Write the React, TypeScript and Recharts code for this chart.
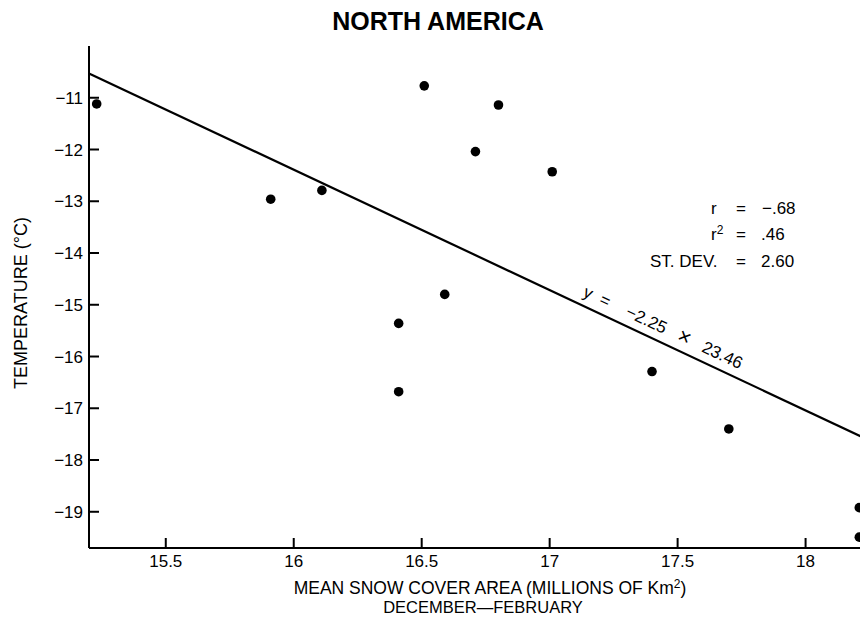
import { ScatterChart, Scatter, XAxis, YAxis, ReferenceLine } from 'recharts';

// mean snow cover area (millions of km2), Dec-Feb
const snowCover = [15.23, 15.91, 16.11, 16.51, 16.8, 16.71, 17.01, 16.59, 16.41, 16.41, 17.4, 17.7, 18.21, 18.21];
// temperature (deg C)
const temperature = [-11.12, -12.96, -12.79, -10.77, -11.14, -12.04, -12.43, -14.8, -15.36, -16.68, -16.29, -17.4, -18.92, -19.49];

const xTicks = [15.5, 16, 16.5, 17, 17.5, 18];
const yTicks = [-11, -12, -13, -14, -15, -16, -17, -18, -19];

// regression line as drawn
const fitLine = [
  { x: 15.2, y: -10.53 },
  { x: 18.24, y: -17.6 },
];

const points = snowCover.map((x, i) => ({ x, y: temperature[i] }));

const FONT = '"Liberation Sans", Arial, Helvetica, sans-serif';
const TICK = 10;

const fmtY = (v: number) => `\u2212${Math.abs(v)}`;

const LeftTick = (p: any) => (
  <g>
    <line x1={p.x} y1={p.y} x2={p.x + TICK} y2={p.y} stroke="#000" strokeWidth={2} />
    <text x={p.x - 6} y={p.y + 6} textAnchor="end" fontSize={17} fontFamily={FONT} fill="#000">
      {fmtY(p.payload.value)}
    </text>
  </g>
);

const RightTick = (p: any) => (
  <line x1={p.x} y1={p.y} x2={p.x - TICK} y2={p.y} stroke="#000" strokeWidth={2} />
);

const BottomTick = (p: any) => (
  <g>
    <line x1={p.x} y1={p.y} x2={p.x} y2={p.y - TICK} stroke="#000" strokeWidth={2} />
    <text x={p.x} y={p.y + 19} textAnchor="middle" fontSize={17} fontFamily={FONT} fill="#000">
      {p.payload.value}
    </text>
  </g>
);

const TopTick = (p: any) => (
  <line x1={p.x} y1={p.y} x2={p.x} y2={p.y + TICK} stroke="#000" strokeWidth={2} />
);

const Dot = (p: any) => <circle cx={p.cx} cy={p.cy} r={4.8} fill="#000" />;

const axisLine = { stroke: '#000', strokeWidth: 2 };

export default function App() {
  return (
    <>
      <style>{`html, body { margin: 0; padding: 0; overflow: hidden; }`}</style>
      <div
        style={{
          position: 'relative',
          width: 860,
          height: 620,
          overflow: 'hidden',
          background: '#fff',
          fontFamily: FONT,
        }}
      >
        <ScatterChart width={880} height={620} margin={{ top: 46, right: 13, bottom: 0, left: 0 }}>
          <XAxis
            xAxisId="b"
            type="number"
            dataKey="x"
            domain={[15.2, 18.24]}
            allowDataOverflow
            ticks={xTicks}
            interval={0}
            orientation="bottom"
            height={72}
            tickSize={0}
            tickMargin={0}
            tickLine={false}
            axisLine={axisLine}
            tick={BottomTick}
          />
          <XAxis
            xAxisId="t"
            type="number"
            dataKey="x"
            domain={[15.2, 18.24]}
            allowDataOverflow
            ticks={xTicks}
            interval={0}
            orientation="top"
            height={0}
            tickSize={0}
            tickMargin={0}
            tickLine={false}
            axisLine={axisLine}
            tick={TopTick}
          />
          <YAxis
            yAxisId="l"
            type="number"
            dataKey="y"
            domain={[-19.7, -10]}
            allowDataOverflow
            ticks={yTicks}
            interval={0}
            width={89}
            tickSize={0}
            tickMargin={0}
            tickLine={false}
            axisLine={axisLine}
            tick={LeftTick}
          />
          <YAxis
            yAxisId="r"
            orientation="right"
            type="number"
            dataKey="y"
            domain={[-19.7, -10]}
            allowDataOverflow
            ticks={yTicks}
            interval={0}
            width={0}
            tickSize={0}
            tickMargin={0}
            tickLine={false}
            axisLine={axisLine}
            tick={RightTick}
          />
          <ReferenceLine
            xAxisId="b"
            yAxisId="l"
            segment={fitLine}
            stroke="#000"
            strokeWidth={2.2}
            ifOverflow="visible"
          />
          <Scatter xAxisId="b" yAxisId="l" data={points} shape={Dot} isAnimationActive={false} />
          <Scatter xAxisId="t" yAxisId="r" data={points} shape={() => <g />} isAnimationActive={false} />
        </ScatterChart>

        <svg
          width={860}
          height={620}
          style={{ position: 'absolute', left: 0, top: 0, pointerEvents: 'none' }}
          fontFamily={FONT}
          fill="#000"
        >
          <text x={438} y={30} textAnchor="middle" fontSize={25} fontWeight="bold">
            NORTH AMERICA
          </text>

          <text transform="translate(27,303) rotate(-90)" textAnchor="middle" fontSize={18}>
            TEMPERATURE (°C)
          </text>

          <text x={490} y={594} textAnchor="middle" fontSize={17.5}>
            MEAN SNOW COVER AREA (MILLIONS OF Km
            <tspan dy={-6} fontSize={12}>2</tspan>
            <tspan dy={6}>)</tspan>
          </text>
          <text x={483} y={613} textAnchor="middle" fontSize={16.5}>
            DECEMBER—FEBRUARY
          </text>

          <g fontSize={17}>
            <text x={711} y={214}>r</text>
            <text x={736} y={214}>=</text>
            <text x={762} y={214}>−.68</text>

            <text x={711} y={240}>
              r<tspan dy={-6} fontSize={12}>2</tspan>
            </text>
            <text x={736} y={240}>=</text>
            <text x={761} y={240}>.46</text>

            <text x={650} y={267}>ST. DEV.</text>
            <text x={736} y={267}>=</text>
            <text x={761} y={267}>2.60</text>
          </g>

          <g transform="translate(582,296) rotate(25)" fontSize={17}>
            <text x={0} y={0}>y</text>
            <text x={18} y={0}>=</text>
            <text x={47} y={0}>−2.25</text>
            <text x={104} y={1} fontSize={22}>×</text>
            <text x={131} y={0}>23.46</text>
          </g>
        </svg>
      </div>
    </>
  );
}
